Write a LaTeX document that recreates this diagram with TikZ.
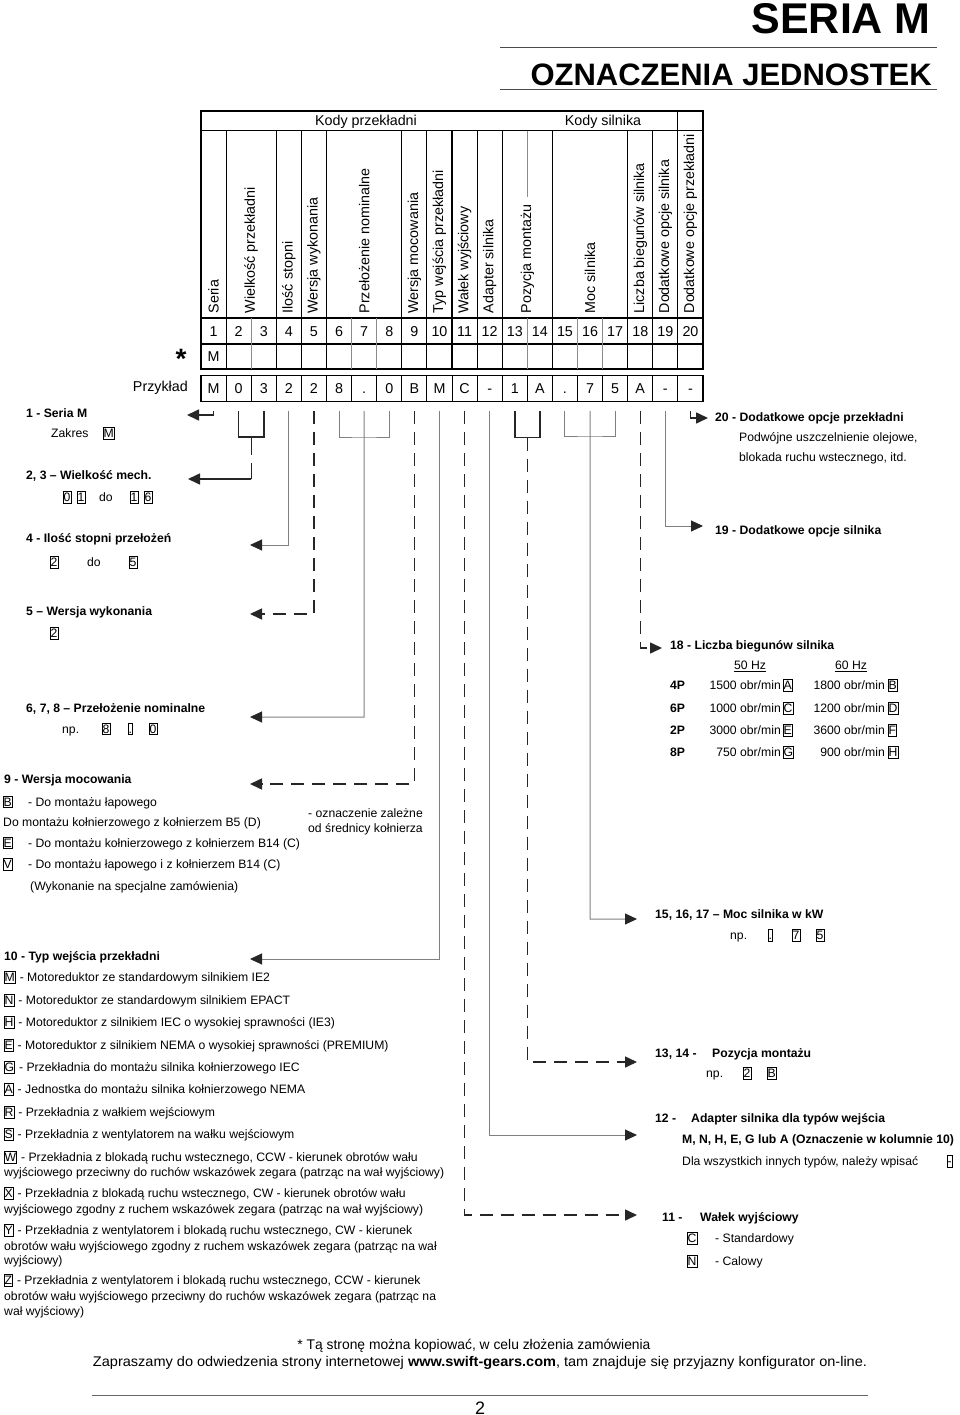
\documentclass[tikz,border=0pt]{standalone}
\usepackage{fontspec}
\usepackage{graphicx}
\setmainfont{Liberation Sans}
\usetikzlibrary{arrows.meta}

\tikzset{
  tekst/.style={anchor=base west, inner sep=0pt, font=\fontsize{12.2}{14}\selectfont},
  tytul/.style={tekst, font=\fontsize{12.2}{14}\selectfont\bfseries},
  kod/.style={draw, line width=0.6pt, anchor=base west, inner xsep=0.4pt, inner ysep=1.3pt,
    text height=8.8pt, text depth=0pt, font=\fontsize{12.2}{14}\selectfont},
  pion/.style={rotate=90, anchor=west, inner sep=0pt, font=\fontsize{14.3}{16}\selectfont},
  komorka/.style={anchor=base, inner sep=0pt, font=\fontsize{14.3}{16}\selectfont},
  gruba/.style={line width=1.5pt, black!85},
  szara/.style={line width=1pt, black!50},
  przerywana/.style={gruba, dash pattern=on 13pt off 8pt},
  >={Triangle[length=12pt,width=11pt,color=black!85]}
}

\begin{document}
\begin{tikzpicture}[x=1pt,y=-1pt]
\useasboundingbox (0,0) rectangle (960,1415);
\fill[white] (0,0) rectangle (960,1415);

% naglowek strony
\node[anchor=base east, inner sep=0pt, font=\fontsize{43}{46}\selectfont\bfseries] (seria) at (931,34) {SERIA M};
\node[anchor=base east, inner sep=0pt, font=\fontsize{31}{33}\selectfont\bfseries] (oznaczenia) at (932,86) {OZNACZENIA JEDNOSTEK};
\draw[line width=1.3pt, black!70] (500,47.3) -- (937,47.3);
\draw[line width=1.3pt, black!70] (500,89.3) -- (937,89.3);

% tabela kodow
\draw[line width=1.6pt] (201,111) rectangle (703,369);
\draw[line width=1.1pt] (201,130.7) -- (703,130.7);
\draw[line width=1.1pt] (201,318) -- (703,318);
\draw[line width=1.1pt] (201,344) -- (703,344);
\foreach \i in {1,3,4,5,8,9,10,11,12,14,17,18}
  \draw[line width=1.1pt] ({201+25.1*\i},130.7) -- ({201+25.1*\i},369);
\draw[line width=1.1pt] ({201+25.1*19},111) -- ({201+25.1*19},369);
\foreach \i in {2,6,7,13,15,16}
  \draw[line width=0.7pt, black!45] ({201+25.1*\i},318) -- ({201+25.1*\i},369);
\draw[line width=0.7pt, black!45] ({201+25.1*13},130.7) -- ({201+25.1*13},197);

\node[komorka] (kp) at (366,126) {Kody przekładni};
\node[komorka] (ks) at (603,126) {Kody silnika};

\foreach \a/\b/\t in {1/1/Seria, 2/3/Wielkość przekładni, 4/4/Ilość stopni,
    5/5/Wersja wykonania, 6/8/Przełożenie nominalne, 9/9/Wersja mocowania,
    10/10/Typ wejścia przekładni, 11/11/Wałek wyjściowy, 12/12/Adapter silnika,
    13/14/Pozycja montażu, 15/17/Moc silnika, 18/18/Liczba biegunów silnika,
    19/19/Dodatkowe opcje silnika, 20/20/Dodatkowe opcje przekładni}
  \node[pion] (l\a) at ({201+25.1*(\a-1+\b)/2},313.5) {\t};

\foreach \i in {1,...,20}
  \node[komorka] (n\i) at ({201+25.1*(\i-0.5)},336.5) {\i};
\node[komorka] (m1) at (213.6,361.7) {M};

% przyklad
\node[anchor=north, inner sep=0pt, font=\fontsize{28}{30}\selectfont\bfseries] (gwiazdka) at (181,349) {*};
\node[anchor=base east, inner sep=0pt, font=\fontsize{14.3}{16}\selectfont] (przyklad) at (188,391) {Przykład};
\draw[line width=1.6pt] (201,375.5) rectangle (703,401.5);
\foreach \i in {1,...,19}
  \draw[line width=0.9pt] ({201+25.1*\i},375.5) -- ({201+25.1*\i},401.5);
\foreach \c [count=\i] in {M,0,3,2,2,8,.,0,B,M,C,-,1,A,.,7,5,A,-,-}
  \node[komorka] (p\i) at ({201+25.1*(\i-0.5)},393.5) {\c};

% punkty startowe i koncowe strzalek
\foreach \i in {1,...,20}
  \coordinate (k\i) at ({201+25.1*(\i-0.5)},411);
\coordinate (b23) at (251.25,437);
\coordinate (b68) at (364.15,437);
\coordinate (b1314) at (527.35,437.7);
\coordinate (b1517) at (590.1,436);
\coordinate (t1) at (187,415);
\coordinate (t23) at (188,479);
\coordinate (t4) at (250,545);
\coordinate (t5) at (250,614);
\coordinate (t68) at (250,717);
\coordinate (t9) at (250,784);
\coordinate (t10) at (250,959);
\coordinate (t11) at (637,1215);
\coordinate (t12) at (637,1135);
\coordinate (t1314) at (637,1062);
\coordinate (t1517) at (637,919);
\coordinate (t18) at (662,648);
\coordinate (t19) at (703,526);
\coordinate (t20) at (708,418);

\draw[gruba,->] (k1) |- (t1);
\draw[gruba] (k2) |- (b23) -| (k3);
\draw[gruba, dash pattern=on 18pt off 8pt] (b23) -- (b23 |- t23);
\draw[gruba,->] (b23 |- t23) -- (t23);
\draw[szara,->] (k4) |- (t4);
\draw[przerywana,->] (k5) |- (t5);
\draw[szara] (k6) |- (b68) -| (k8);
\draw[szara,->] (k7) -- (b68) |- (t68);
\draw[przerywana,->] (k9) |- (t9);
\draw[szara,->] (k10) |- (t10);
\draw[przerywana,->] (k11) |- (t11);
\draw[szara,->] (k12) |- (t12);
\draw[gruba] (k13) |- (b1314) -| (k14);
\draw[przerywana,->] (b1314) |- (t1314);
\draw[szara] (k15) |- (b1517) -| (k17);
\draw[szara,->] (k16) -- (b1517) |- (t1517);
\draw[przerywana,->] (k18) |- (t18);
\draw[szara,->] (k19) |- (t19);
\draw[gruba,->] (k20) |- (t20);

% lewa kolumna
\node[tytul] (h1) at (26,417.5) {1 - Seria M};
\node[tekst] (zakres) at (51,437.5) {Zakres};
\node[kod] (zM) at (103,437.5) {M};
\node[tytul] (h23) at (26,479.5) {2, 3 – Wielkość mech.};
\node[kod] (g0) at (63,501.5) {0};
\node[kod] (g1) at (77,501.5) {1};
\node[tekst] (gdo) at (99,501.5) {do};
\node[kod] (g1b) at (130,501.5) {1};
\node[kod] (g6) at (144,501.5) {6};
\node[tytul] (h4) at (26,542.5) {4 - Ilość stopni przełożeń};
\node[kod] (s2) at (50,566.5) {2};
\node[tekst] (sdo) at (87,566.5) {do};
\node[kod] (s5) at (129,566.5) {5};
\node[tytul] (h5) at (26,615) {5 – Wersja wykonania};
\node[kod] (v2) at (50,637.5) {2};
\node[tytul] (h68) at (26,712.5) {6, 7, 8 – Przełożenie nominalne};
\node[tekst] (rnp) at (62,733) {np.};
\node[kod] (r8) at (102,733) {8};
\node[kod] (rk) at (128,733) {.};
\node[kod] (r0) at (149,733) {0};

\node[tytul] (h9) at (4,783.5) {9 - Wersja mocowania};
\node[kod] (mB) at (3,806) {B};
\node[tekst] (mBt) at (28,806) {- Do montażu łapowego};
\node[tekst] (mD) at (3,826) {Do montażu kołnierzowego z kołnierzem B5 (D)};
\node[kod] (mE) at (3,847) {E};
\node[tekst] (mEt) at (28,847) {- Do montażu kołnierzowego z kołnierzem B14 (C)};
\node[kod] (mV) at (3,868.5) {V};
\node[tekst] (mVt) at (28,868.5) {- Do montażu łapowego i z kołnierzem B14 (C)};
\node[tekst] (mW) at (30,890) {(Wykonanie na specjalne zamówienia)};
\node[tekst] (uw1) at (308,817.5) {- oznaczenie zależne};
\node[tekst] (uw2) at (308,832.5) {od średnicy kołnierza};

\node[tytul] (h10) at (4,960.5) {10 - Typ wejścia przekładni};
\foreach \k/\y/\t in {M/981.5/{- Motoreduktor ze standardowym silnikiem IE2},
    N/1004.5/{- Motoreduktor ze standardowym silnikiem EPACT},
    H/1026.5/{- Motoreduktor z silnikiem IEC o wysokiej sprawności (IE3)},
    E/1049.5/{- Motoreduktor z silnikiem NEMA o wysokiej sprawności (PREMIUM)},
    G/1071.5/{- Przekładnia do montażu silnika kołnierzowego IEC},
    A/1093.5/{- Jednostka do montażu silnika kołnierzowego NEMA},
    R/1116.5/{- Przekładnia z wałkiem wejściowym},
    S/1138.5/{- Przekładnia z wentylatorem na wałku wejściowym},
    W/1161.5/{- Przekładnia z blokadą ruchu wstecznego, CCW - kierunek obrotów wału},
    X/1197.5/{- Przekładnia z blokadą ruchu wstecznego, CW - kierunek obrotów wału},
    Y/1234.5/{- Przekładnia z wentylatorem i blokadą ruchu wstecznego, CW - kierunek},
    Z/1284.5/{- Przekładnia z wentylatorem i blokadą ruchu wstecznego, CCW - kierunek}}
{
  \node[kod] (typ\k) at (4,\y) {\k};
  \node[tekst] (typ\k t) at ([xshift=4pt]typ\k.base east) {\t};
}
\node[tekst] (typW2) at (4,1176.5) {wyjściowego przeciwny do ruchów wskazówek zegara (patrząc na wał wyjściowy)};
\node[tekst] (typX2) at (4,1213.5) {wyjściowego zgodny z ruchem wskazówek zegara (patrząc na wał wyjściowy)};
\node[tekst] (typY2) at (4,1250.5) {obrotów wału wyjściowego zgodny z ruchem wskazówek zegara (patrząc na wał};
\node[tekst] (typY3) at (4,1264.5) {wyjściowy)};
\node[tekst] (typZ2) at (4,1300.5) {obrotów wału wyjściowego przeciwny do ruchów wskazówek zegara (patrząc na};
\node[tekst] (typZ3) at (4,1315.5) {wał wyjściowy)};

% prawa kolumna
\node[tytul] (h20) at (715,421.5) {20 - Dodatkowe opcje przekładni};
\node[tekst] (h20a) at (739,441.5) {Podwójne uszczelnienie olejowe,};
\node[tekst] (h20b) at (739,461.5) {blokada ruchu wstecznego, itd.};
\node[tytul] (h19) at (715,534.5) {19 - Dodatkowe opcje silnika};
\node[tytul] (h18) at (670,649.5) {18 - Liczba biegunów silnika};
\node[tekst, anchor=base] (hz50) at (750,669.5) {\underline{50 Hz}};
\node[tekst, anchor=base] (hz60) at (851,669.5) {\underline{60 Hz}};
\foreach \pp/\yy/\va/\ka/\vb/\kb in {4P/689.5/1500/A/1800/B, 6P/712.5/1000/C/1200/D,
    2P/734.5/3000/E/3600/F, 8P/756.5/750/G/900/H}
{
  \node[tytul] (b\pp) at (670,\yy) {\pp};
  \node[tekst, anchor=base east] (o\ka) at (781,\yy) {\va\ obr/min};
  \node[kod] (z\ka) at (783,\yy) {\ka};
  \node[tekst, anchor=base east] (o\kb) at (885,\yy) {\vb\ obr/min};
  \node[kod] (z\kb) at (888,\yy) {\kb};
}

\node[tytul] (h1517) at (655,918.5) {15, 16, 17 – Moc silnika w kW};
\node[tekst] (mnp) at (730,939.5) {np.};
\node[kod] (mk) at (768,939.5) {.};
\node[kod] (m7) at (792,939.5) {7};
\node[kod] (m5) at (816,939.5) {5};

\node[tytul] (h1314) at (655,1057.5) {13, 14 -};
\node[tytul] (h1314t) at (712,1057.5) {Pozycja montażu};
\node[tekst] (qnp) at (706,1077.5) {np.};
\node[kod] (q2) at (743,1077.5) {2};
\node[kod] (qB) at (767,1077.5) {B};

\node[tytul] (h12) at (655,1122.5) {12 -};
\node[tytul] (h12t) at (691,1122.5) {Adapter silnika dla typów wejścia};
\node[tytul] (h12a) at (682,1143.5) {M, N, H, E, G lub A (Oznaczenie w kolumnie 10)};
\node[tekst] (h12b) at (682,1165.5) {Dla wszystkich innych typów, należy wpisać};
\node[kod] (qm) at (947,1165.5) {-};

\node[tytul] (h11) at (662,1221.5) {11 -};
\node[tytul] (h11t) at (700,1221.5) {Wałek wyjściowy};
\node[kod] (wC) at (687,1242.5) {C};
\node[tekst] (wCt) at (715,1242.5) {- Standardowy};
\node[kod] (wN) at (687,1265.5) {N};
\node[tekst] (wNt) at (715,1265.5) {- Calowy};

% stopka
\node[anchor=base, inner sep=0pt] (stopka1) at (474,1349)
  {\resizebox{353pt}{\height}{\fontsize{14}{16}\selectfont * Tą stronę można kopiować, w celu złożenia zamówienia}};
\node[anchor=base, inner sep=0pt] (stopka2) at (480,1366)
  {\resizebox{774pt}{\height}{\fontsize{14}{16}\selectfont Zapraszamy do odwiedzenia strony internetowej \textbf{www.swift-gears.com}, tam znajduje się przyjazny konfigurator on-line.}};
\draw[line width=1pt, black!60] (92,1395) -- (868,1395);
\node[anchor=base, inner sep=0pt, font=\fontsize{18}{20}\selectfont] (strona) at (480,1414) {2};
\end{tikzpicture}
\end{document}
